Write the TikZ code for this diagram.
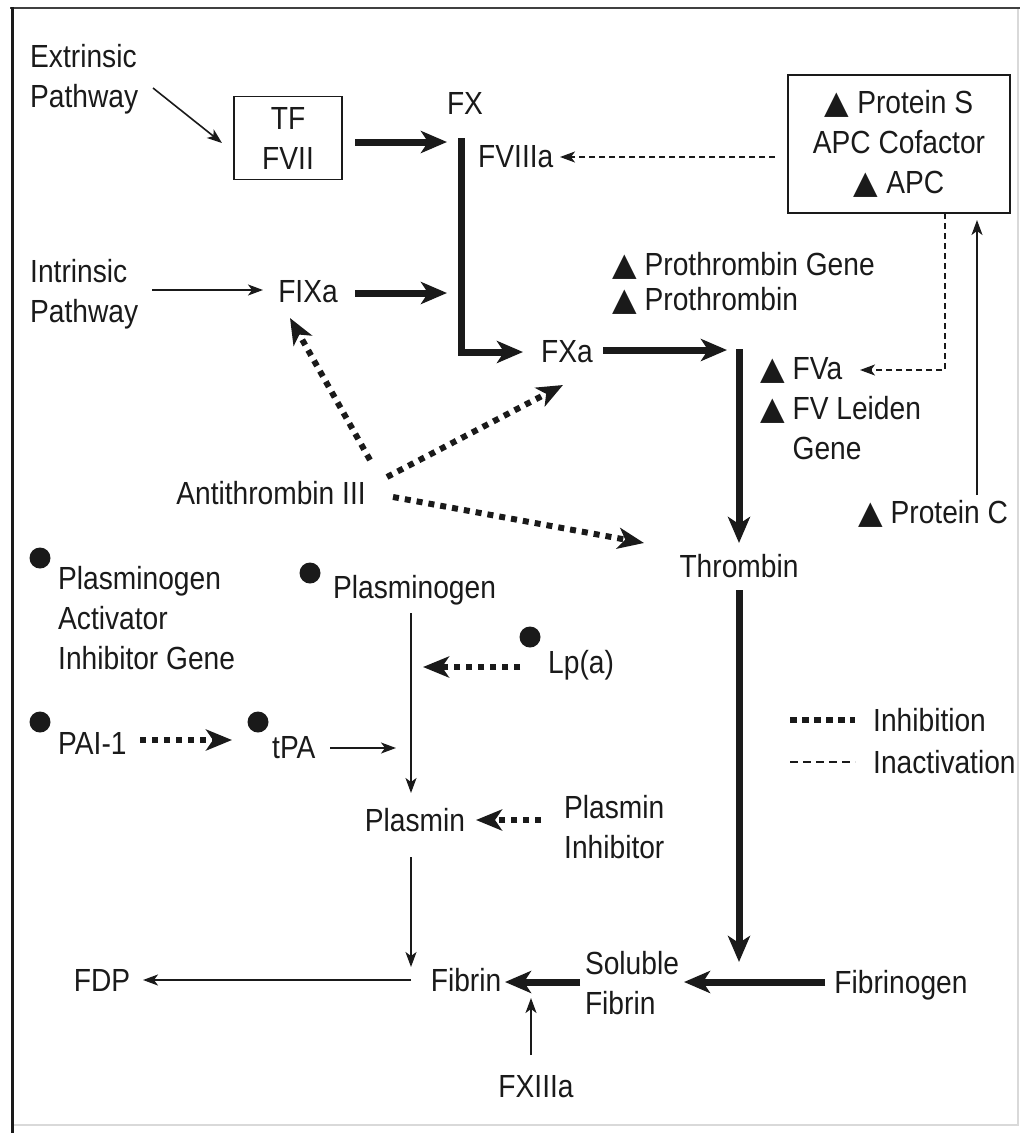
\documentclass[tikz,border=0pt]{standalone}
\usepackage{fontspec}
\setmainfont{Liberation Sans}[FakeStretch=0.88]
\newfontfamily\symf{DejaVu Sans}
\usetikzlibrary{arrows.meta}
\definecolor{ink}{HTML}{1A1A1A}
\newcommand{\tri}{{\symf ▲}}
\begin{document}
\begin{tikzpicture}[x=1pt,y=-1pt,
  lbl/.style={inner sep=0pt, text=ink, font=\fontsize{32}{40}\selectfont, align=left},
  boxed/.style={draw=ink, line width=1.6pt, inner sep=0pt, text=ink, font=\fontsize{32}{40}\selectfont, align=center},
  bullet/.style={circle, fill=ink, inner sep=0pt, minimum size=21pt},
  thin/.style={draw=ink, line width=1.6pt, -{Stealth[length=15pt,width=11pt,inset=4pt]}},
  heavy/.style={draw=ink, line width=7pt, line join=miter, -{Stealth[length=26pt,width=22pt,inset=7pt]}},
  inact/.style={draw=ink, line width=1.4pt, dash pattern=on 6pt off 4pt, -{Stealth[length=15pt,width=11pt,inset=4pt]}},
  inhib/.style={draw=ink, line width=6pt, dash pattern=on 6pt off 6pt, -{Stealth[length=26pt,width=21pt,inset=7pt]}}
]
\useasboundingbox (0,0) rectangle (1022,1133);
% frame
\draw[draw=black!15, line width=1.5pt] (1018,8) -- (1018,1125) -- (12,1125);
\draw[draw=black!75, line width=2.5pt] (10,8) -- (1020,8);
\draw[draw=ink, line width=3pt] (12,7) -- (12,1133);

% nodes
\node[lbl, anchor=west] (ext) at (30,79) {Extrinsic\\Pathway};
\node[boxed, minimum width=108pt, minimum height=83pt] (tf) at (288,138) {TF\\FVII};
\node[lbl] (fx) at (465,103) {FX};
\node[lbl, anchor=west] (fviiia) at (478,157) {FVIIIa};
\node[boxed, minimum width=222pt, minimum height=138pt] (apc) at (899,144) {\tri{} Protein S\\APC Cofactor\\\tri{} APC};
\node[lbl, anchor=west] (intr) at (30,294) {Intrinsic\\Pathway};
\node[lbl] (fixa) at (308,292) {FIXa};
\node[lbl, anchor=west, font=\fontsize{32}{35}\selectfont] (proth) at (612,283) {\tri{} Prothrombin Gene\\\tri{} Prothrombin};
\node[lbl] (fxa) at (567,352) {FXa};
\node[lbl, anchor=west] (fva) at (760,370) {\tri{} FVa};
\node[lbl, anchor=west] (fvl) at (760,430) {\tri{} FV Leiden\\\phantom{\tri{} }Gene};
\node[lbl] (at3) at (271,493) {Antithrombin III};
\node[lbl, anchor=west] (protc) at (858,514) {\tri{} Protein C};
\node[lbl] (thr) at (739,566) {Thrombin};
\node[bullet] (paigb) at (40,558) {};
\node[lbl, anchor=west] (paig) at (58,618) {Plasminogen\\Activator\\Inhibitor Gene};
\node[bullet] (plgb) at (310,573) {};
\node[lbl, anchor=west] (plg) at (333,590) {Plasminogen};
\node[bullet] (lpab) at (530,637) {};
\node[lbl, anchor=west] (lpa) at (548,665) {Lp(a)};
\node[bullet] (paib) at (40,722) {};
\node[lbl, anchor=west] (pai) at (58,743) {PAI-1};
\node[bullet] (tpab) at (258,722) {};
\node[lbl, anchor=west] (tpa) at (272,748) {tPA};
\node[lbl] (plasmin) at (415,820) {Plasmin};
\node[lbl, anchor=west] (plinh) at (564,827) {Plasmin\\Inhibitor};
\node[lbl, anchor=west] (leginh) at (873,720) {Inhibition};
\node[lbl, anchor=west] (leginact) at (873,762) {Inactivation};
\node[lbl] (fdp) at (102,980) {FDP};
\node[lbl] (fibrin) at (466,980) {Fibrin};
\node[lbl] (solfib) at (632,983) {Soluble\\Fibrin};
\node[lbl] (fbg) at (901,985) {Fibrinogen};
\node[lbl] (fxiiia) at (536,1087) {FXIIIa};

% junction coordinates
\coordinate (j1) at (461,140);
\coordinate (j3) at (461,293);
\coordinate (j2) at (461,352);
\coordinate (j4) at (739,352);

% connectors
\draw[thin] ([xshift=123,yshift=-9]ext.west) -- ([xshift=-66,yshift=-5]tf.center);
\draw[heavy] ([xshift=67,yshift=-4]tf.center) -- ([xshift=-14,yshift=-2]j1);
\draw[heavy] ([yshift=2]j1) |- ([xshift=-44]fxa.center);
\draw[inact] ([xshift=-124,yshift=-13]apc.center) -- ([xshift=82]fviiia.west);
\draw[thin] ([xshift=122,yshift=4]intr.west) -- ([xshift=-45,yshift=2]fixa.center);
\draw[heavy] ([xshift=47,yshift=-1]fixa.center) -- ([xshift=-14]j3);
\draw[heavy] ([xshift=36,yshift=2]fxa.center) -- ([xshift=-12,yshift=2]j4);
\draw[heavy] ([yshift=3]j4) -- ([yshift=23]thr.center);
\draw[inact] ([xshift=46,yshift=-69]apc.center) |- ([xshift=100]fva.west);
\draw[thin] ([xshift=119,yshift=19]protc.west) -- ([xshift=78,yshift=-76]apc.center);
\draw[inhib] ([xshift=99,yshift=33]at3.center) -- ([xshift=-18,yshift=-26]fixa.center);
\draw[inhib] ([xshift=116,yshift=16]at3.center) -- ([xshift=-4,yshift=-33]fxa.center);
\draw[inhib] ([xshift=122,yshift=-4]at3.center) -- ([xshift=-95,yshift=23]thr.center);
\draw[heavy] ([yshift=-24]thr.center) -- ([xshift=107,yshift=21]solfib.center);
\draw[thin] ([xshift=78,yshift=-23]plg.west) -- ([xshift=-4,yshift=27]plasmin.center);
\draw[inhib] ([xshift=-28,yshift=-2]lpa.west) -- ([xshift=8,yshift=153]plasmin.center);
\draw[inhib] ([xshift=82,yshift=3]pai.west) -- ([xshift=-26,yshift=-18]tpab.center);
\draw[thin] ([xshift=58]tpa.west) -- ([xshift=-19,yshift=72]plasmin.center);
\draw[inhib] ([xshift=-23,yshift=7]plinh.west) -- ([xshift=61]plasmin.center);
\draw[thin] ([xshift=-4,yshift=-37]plasmin.center) -- ([xshift=-55,yshift=13]fibrin.center);
\draw[thin] ([xshift=-55]fibrin.center) -- ([xshift=41]fdp.center);
\draw[heavy] ([xshift=-52,yshift=1]solfib.center) -- ([xshift=39,yshift=-2]fibrin.center);
\draw[heavy] ([xshift=-76,yshift=3]fbg.center) -- ([xshift=52,yshift=1]solfib.center);
\draw[thin] ([xshift=-5,yshift=32]fxiiia.center) -- ([xshift=65,yshift=-18]fibrin.center);

% legend
\draw[draw=ink, line width=6pt, dash pattern=on 7pt off 5pt] ([xshift=-83]leginh.west) -- ([xshift=-18]leginh.west);
\draw[draw=ink, line width=1.4pt, dash pattern=on 8pt off 5pt] ([xshift=-83]leginact.west) -- ([xshift=-18]leginact.west);
\end{tikzpicture}
\end{document}
